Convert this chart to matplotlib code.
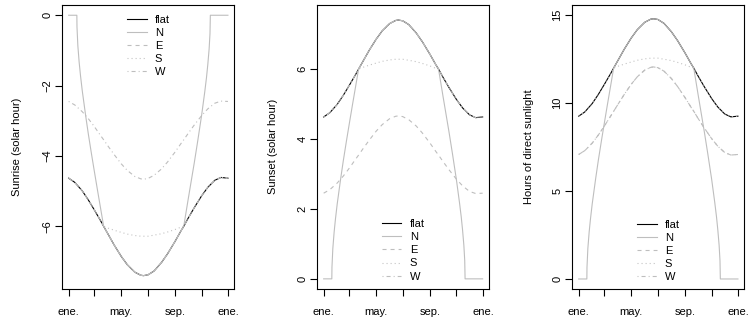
import numpy as np
import matplotlib
matplotlib.use("Agg")
import matplotlib.pyplot as plt
from matplotlib.lines import Line2D

plt.rcParams['font.family'] = ['Liberation Sans', 'DejaVu Sans']
plt.rcParams['font.size'] = 8
plt.rcParams['lines.scale_dashes'] = False

# ---- data (day of year, hours) ----
days = [0, 14, 31, 45, 59, 73, 80, 90, 104, 120, 134, 151, 165, 171, 181, 195,
        212, 226, 243, 257, 263, 273, 287, 304, 318, 334, 348, 364]
flat_sunset = [4.63, 4.75, 4.99, 5.25, 5.54, 5.84, 6.00, 6.22, 6.53, 6.85, 7.09, 7.30,
               7.39, 7.40, 7.38, 7.27, 7.03, 6.78, 6.43, 6.12, 6.00, 5.77, 5.47, 5.13,
               4.89, 4.69, 4.61, 4.63]
ew_sunset = [2.45, 2.55, 2.74, 2.94, 3.17, 3.42, 3.54, 3.72, 3.96, 4.22, 4.41, 4.58,
             4.65, 4.66, 4.64, 4.55, 4.37, 4.17, 3.89, 3.64, 3.54, 3.36, 3.12, 2.85,
             2.66, 2.50, 2.44, 2.45]
s_sunset = [4.63, 4.75, 4.99, 5.25, 5.54, 5.84, 6.00, 6.05, 6.11, 6.17, 6.22, 6.26,
            6.28, 6.28, 6.28, 6.25, 6.21, 6.16, 6.09, 6.02, 6.00, 5.77, 5.47, 5.13,
            4.89, 4.69, 4.61, 4.63]
days_n = [0, 18.7, 19, 21, 24, 27, 31, 39, 45, 52, 59, 66, 73, 80, 90, 104, 120, 134,
          151, 165, 171, 181, 195, 212, 226, 243, 257, 263, 273, 280, 287, 295, 304,
          311, 315, 318, 321, 323, 323.8, 334, 348, 364]
n_sunset = [0, 0, 0.33, 0.87, 1.34, 1.71, 2.14, 2.87, 3.38, 3.93, 4.46, 4.98, 5.49,
            6.00, 6.22, 6.53, 6.85, 7.09, 7.30, 7.39, 7.40, 7.38, 7.27, 7.03, 6.78,
            6.43, 6.12, 6.00, 5.24, 4.72, 4.20, 3.57, 2.83, 2.18, 1.77, 1.40, 0.96,
            0.52, 0, 0, 0, 0]

tick_days = [0, 59, 120, 181, 243, 304, 365]
tick_labels = ['ene.', '', 'may.', '', 'sep.', '', 'ene.']
series_names = ['flat', 'N', 'E', 'S', 'W']

fl = np.array(flat_sunset)
ew = np.array(ew_sunset)
ss = np.array(s_sunset)
nn = np.array(n_sunset)

GRAY = '#BEBEBE'
LW = 0.8
styles = {
    'flat': dict(color='black', linestyle='-'),
    'N': dict(color=GRAY, linestyle='-'),
    'E': dict(color=GRAY, linestyle=(0, (2.9, 2.9))),
    'S': dict(color=GRAY, linestyle=(0, (0.72, 2.2))),
    'W': dict(color=GRAY, linestyle=(0, (0.72, 2.2, 2.9, 2.2))),
}

panels = [
    dict(rect=(62.3, 234.3), ylabel='Sunrise (solar hour)', ylim=(-7.78, 0.30),
         yticks=[0, -2, -4, -6],
         data={'flat': (days, -fl), 'N': (days_n, -nn), 'E': (days, -fl),
               'S': (days, -ss), 'W': (days, -ew)},
         leg=('upper left', (0.377, 0.965)), ylabx=-0.236),
    dict(rect=(317.3, 489.0), ylabel='Sunset (solar hour)', ylim=(-0.29, 7.84),
         yticks=[0, 2, 4, 6],
         data={'flat': (days, fl), 'N': (days_n, nn), 'E': (days, ew),
               'S': (days, ss), 'W': (days, fl)},
         leg=('lower left', (0.377, 0.026)), ylabx=-0.228),
    dict(rect=(572.3, 744.3), ylabel='Hours of direct sunlight', ylim=(-0.57, 15.60),
         yticks=[0, 5, 10, 15],
         data={'flat': (days, 2 * fl), 'N': (days_n, 2 * nn), 'E': (days, fl + ew),
               'S': (days, 2 * ss), 'W': (days, fl + ew)},
         leg=('lower left', (0.377, 0.024)), ylabx=-0.223),
]

W, H = 749, 323
fig = plt.figure(figsize=(W / 100, H / 100), dpi=100)
top, bottom = 4.7, 289.0
for p in panels:
    l, r = p['rect']
    ax = fig.add_axes([l / W, (H - bottom) / H, (r - l) / W, (bottom - top) / H])
    for name in series_names:
        x, y = p['data'][name]
        ax.plot(x, y, lw=LW, **styles[name])
    ax.set_xlim(-14.56, 378.56)
    ax.set_ylim(*p['ylim'])
    ax.set_xticks(tick_days)
    ax.set_xticklabels(tick_labels)
    ax.set_yticks(p['yticks'])
    ax.set_yticklabels([str(v).replace('-', '\u2212') for v in p['yticks']],
                       rotation=90, va='center')
    ax.tick_params(axis='both', length=5, width=0.8, direction='out', labelsize=8)
    ax.tick_params(axis='x', pad=8)
    ax.tick_params(axis='y', pad=2)
    for s in ax.spines.values():
        s.set_linewidth(0.8)
    ax.set_ylabel(p['ylabel'], fontsize=8)
    ax.yaxis.set_label_coords(p['ylabx'], 0.5)
    handles = [Line2D([], [], lw=LW, **styles[n]) for n in series_names]
    loc, anchor = p['leg']
    ax.legend(handles, series_names, loc=loc, bbox_to_anchor=anchor, frameon=False,
              handlelength=1.75, handletextpad=0.75, labelspacing=0.28,
              borderpad=0, borderaxespad=0, fontsize=8)

fig.savefig('out.png', dpi=100)
